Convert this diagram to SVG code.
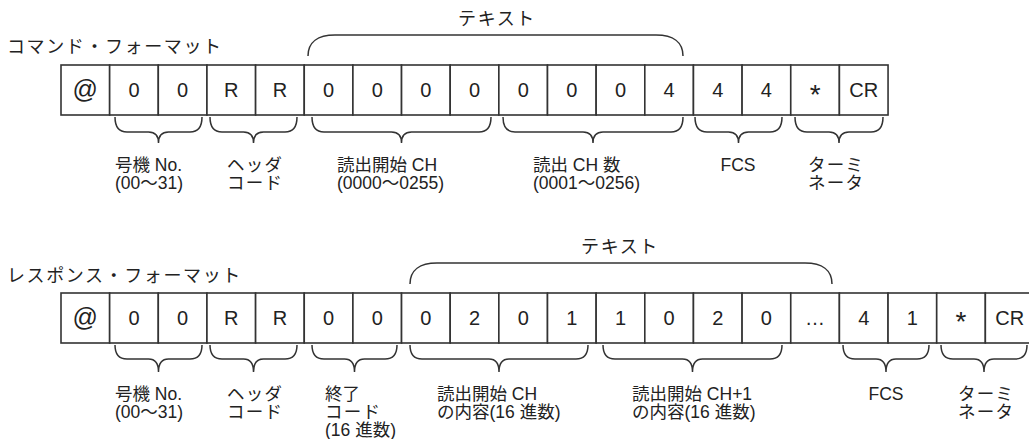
<svg xmlns="http://www.w3.org/2000/svg" width="1029" height="439" viewBox="0 0 1029 439">
<style>
text{font-family:"Liberation Sans","Noto Sans CJK JP",sans-serif;fill:#222}
.cell rect{fill:#fff;stroke:#333;stroke-width:1.6}
.cell text{font-size:20px;text-anchor:middle}
.cell text.at{font-size:25px}
.cell text.star{font-size:28px}
.lbl{font-size:17.5px}
.ttl{font-size:18px;letter-spacing:1.6px}
.br{fill:none;stroke:#333;stroke-width:1.5}
</style>
<rect width="1029" height="439" fill="#fff"/>

<!-- Command format -->
<g id="cmd-title"><text class="ttl" x="7" y="53">コマンド・フォーマット</text></g>
<g id="cmd-text-title"><text class="ttl" x="497" y="25" text-anchor="middle">テキスト</text></g>

<g id="cmd-at" class="cell"><rect x="61" y="65" width="48.65" height="50"/><text class="at" x="85.3" y="98">@</text></g>
<g id="cmd-unit" class="cell">
<rect x="109.65" y="65" width="48.65" height="50"/><text x="134" y="97">0</text>
<rect x="158.3" y="65" width="48.65" height="50"/><text x="182.6" y="97">0</text>
</g>
<g id="cmd-header" class="cell">
<rect x="206.95" y="65" width="48.65" height="50"/><text x="231.3" y="97">R</text>
<rect x="255.6" y="65" width="48.65" height="50"/><text x="279.9" y="97">R</text>
</g>
<g id="cmd-start" class="cell">
<rect x="304.25" y="65" width="48.65" height="50"/><text x="328.6" y="97">0</text>
<rect x="352.9" y="65" width="48.65" height="50"/><text x="377.2" y="97">0</text>
<rect x="401.55" y="65" width="48.65" height="50"/><text x="425.9" y="97">0</text>
<rect x="450.2" y="65" width="48.65" height="50"/><text x="474.5" y="97">0</text>
</g>
<g id="cmd-count" class="cell">
<rect x="498.85" y="65" width="48.65" height="50"/><text x="523.2" y="97">0</text>
<rect x="547.5" y="65" width="48.65" height="50"/><text x="571.8" y="97">0</text>
<rect x="596.15" y="65" width="48.65" height="50"/><text x="620.5" y="97">0</text>
<rect x="644.8" y="65" width="48.65" height="50"/><text x="669.1" y="97">4</text>
</g>
<g id="cmd-fcs" class="cell">
<rect x="693.45" y="65" width="48.65" height="50"/><text x="717.8" y="97">4</text>
<rect x="742.1" y="65" width="48.65" height="50"/><text x="766.4" y="97">4</text>
</g>
<g id="cmd-term" class="cell">
<rect x="790.75" y="65" width="48.65" height="50"/><text class="star" x="815.1" y="104">*</text>
<rect x="839.4" y="65" width="48.65" height="50"/><text x="863.7" y="97">CR</text>
</g>

<g id="cmd-labels">
<text class="lbl" x="115" y="171">号機 No.<tspan x="115" dy="18">(00～31)</tspan></text>
<text class="lbl" x="227" y="171" letter-spacing="1.3">ヘッダ<tspan x="227" dy="18">コード</tspan></text>
<text class="lbl" x="337" y="171">読出開始 CH<tspan x="337" dy="18">(0000～0255)</tspan></text>
<text class="lbl" x="533" y="171">読出 CH 数<tspan x="533" dy="18">(0001～0256)</tspan></text>
<text class="lbl" x="738" y="171" text-anchor="middle">FCS</text>
<text class="lbl" x="808" y="171" letter-spacing="1.3">ターミ<tspan x="808" dy="18">ネータ</tspan></text>
</g>

<!-- Response format -->
<g id="res-title"><text class="ttl" x="7" y="282">レスポンス・フォーマット</text></g>
<g id="res-text-title"><text class="ttl" x="620" y="253" text-anchor="middle">テキスト</text></g>

<g id="res-at" class="cell"><rect x="61" y="293" width="48.65" height="50"/><text class="at" x="85.3" y="326">@</text></g>
<g id="res-unit" class="cell">
<rect x="109.65" y="293" width="48.65" height="50"/><text x="134" y="325">0</text>
<rect x="158.3" y="293" width="48.65" height="50"/><text x="182.6" y="325">0</text>
</g>
<g id="res-header" class="cell">
<rect x="206.95" y="293" width="48.65" height="50"/><text x="231.3" y="325">R</text>
<rect x="255.6" y="293" width="48.65" height="50"/><text x="279.9" y="325">R</text>
</g>
<g id="res-end" class="cell">
<rect x="304.25" y="293" width="48.65" height="50"/><text x="328.6" y="325">0</text>
<rect x="352.9" y="293" width="48.65" height="50"/><text x="377.2" y="325">0</text>
</g>
<g id="res-data1" class="cell">
<rect x="401.55" y="293" width="48.65" height="50"/><text x="425.9" y="325">0</text>
<rect x="450.2" y="293" width="48.65" height="50"/><text x="474.5" y="325">2</text>
<rect x="498.85" y="293" width="48.65" height="50"/><text x="523.2" y="325">0</text>
<rect x="547.5" y="293" width="48.65" height="50"/><text x="571.8" y="325">1</text>
</g>
<g id="res-data2" class="cell">
<rect x="596.15" y="293" width="48.65" height="50"/><text x="620.5" y="325">1</text>
<rect x="644.8" y="293" width="48.65" height="50"/><text x="669.1" y="325">0</text>
<rect x="693.45" y="293" width="48.65" height="50"/><text x="717.8" y="325">2</text>
<rect x="742.1" y="293" width="48.65" height="50"/><text x="766.4" y="325">0</text>
</g>
<g id="res-more" class="cell">
<rect x="790.75" y="293" width="48.65" height="50"/><text x="815.1" y="325">…</text>
</g>
<g id="res-fcs" class="cell">
<rect x="839.4" y="293" width="48.65" height="50"/><text x="863.7" y="325">4</text>
<rect x="888.05" y="293" width="48.65" height="50"/><text x="912.4" y="325">1</text>
</g>
<g id="res-term" class="cell">
<rect x="936.7" y="293" width="48.65" height="50"/><text class="star" x="961" y="331">*</text>
<rect x="985.35" y="293" width="48.65" height="50"/><text x="1009.7" y="325">CR</text>
</g>

<g id="res-labels">
<text class="lbl" x="115" y="400">号機 No.<tspan x="115" dy="18">(00～31)</tspan></text>
<text class="lbl" x="227" y="400" letter-spacing="1.3">ヘッダ<tspan x="227" dy="18">コード</tspan></text>
<text class="lbl" x="325" y="400">終了<tspan x="325" dy="18" letter-spacing="1.3">コード</tspan><tspan x="325" dy="18">(16 進数)</tspan></text>
<text class="lbl" x="437" y="400">読出開始 CH<tspan x="437" dy="18">の内容(16 進数)</tspan></text>
<text class="lbl" x="632" y="400">読出開始 CH+1<tspan x="632" dy="18">の内容(16 進数)</tspan></text>
<text class="lbl" x="886" y="400" text-anchor="middle">FCS</text>
<text class="lbl" x="958" y="400" letter-spacing="1.3">ターミ<tspan x="958" dy="18">ネータ</tspan></text>
</g>

<g id="connectors" class="br">
<path d="M308,56 C308,42 318,35 335,35 H656 C673,35 683,42 683,56"/>
<path d="M410,284 C410,270 420,263 437,263 H805 C822,263 832,270 832,284"/>
<path d="M115,117 Q115,132 127,132 H148.5 Q158.5,132 158.5,143 Q158.5,132 168.5,132 H190 Q202,132 202,117"/>
<path d="M210,117 Q210,132 222,132 H243.5 Q253.5,132 253.5,143 Q253.5,132 263.5,132 H285 Q297,132 297,117"/>
<path d="M312,117 Q312,132 324,132 H391.5 Q401.5,132 401.5,143 Q401.5,132 411.5,132 H479 Q491,132 491,117"/>
<path d="M503,117 Q503,132 515,132 H583 Q593,132 593,143 Q593,132 603,132 H671 Q683,132 683,117"/>
<path d="M695,117 Q695,132 707,132 H728.5 Q738.5,132 738.5,143 Q738.5,132 748.5,132 H770 Q782,132 782,117"/>
<path d="M795,117 Q795,132 807,132 H829 Q839,132 839,143 Q839,132 849,132 H871 Q883,132 883,117"/>
<path d="M115,345 Q115,359 127,359 H148.5 Q158.5,359 158.5,372 Q158.5,359 168.5,359 H190 Q202,359 202,345"/>
<path d="M210,345 Q210,359 222,359 H243.5 Q253.5,359 253.5,372 Q253.5,359 263.5,359 H285 Q297,359 297,345"/>
<path d="M312,345 Q312,359 324,359 H344.5 Q354.5,359 354.5,372 Q354.5,359 364.5,359 H385 Q397,359 397,345"/>
<path d="M410,345 Q410,359 422,359 H489 Q499,359 499,372 Q499,359 509,359 H576 Q588,359 588,345"/>
<path d="M603,345 Q603,359 615,359 H682.5 Q692.5,359 692.5,372 Q692.5,359 702.5,359 H770 Q782,359 782,345"/>
<path d="M843,345 Q843,359 855,359 H876 Q886,359 886,372 Q886,359 896,359 H917 Q929,359 929,345"/>
<path d="M941,345 Q941,359 953,359 H974 Q984,359 984,372 Q984,359 994,359 H1015 Q1027,359 1027,345"/>
</g>
</svg>
